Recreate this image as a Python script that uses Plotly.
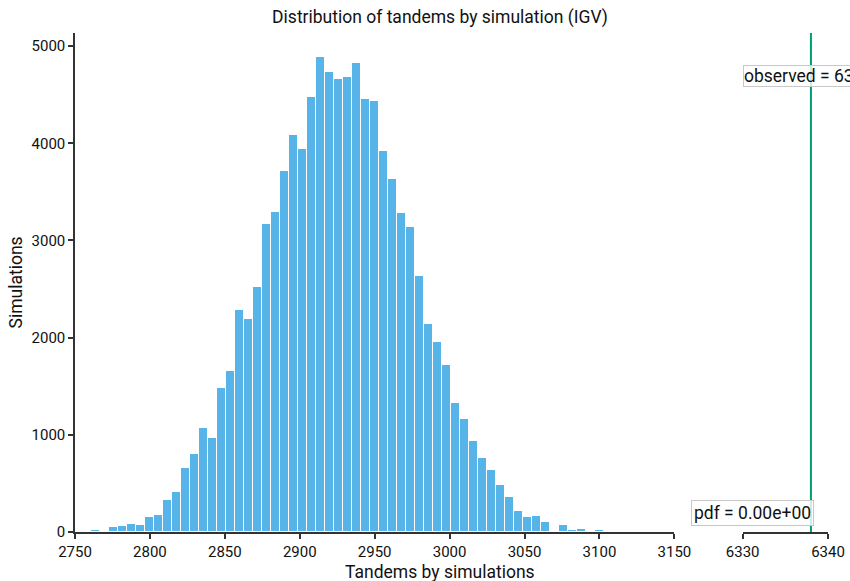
import plotly.graph_objects as go

# ---- data ----
bin_start = 2761
bin_size = 6
counts = [25, 5, 54, 65, 85, 72, 157, 175, 325, 408,
          662, 799, 1070, 970, 1485, 1660, 2280, 2195, 2521, 3169,
          3295, 3710, 4084, 3943, 4475, 4890, 4735, 4660, 4684, 4825,
          4458, 4437, 3916, 3635, 3278, 3134, 2630, 2140, 1955, 1721,
          1330, 1166, 932, 764, 638, 487, 360, 219, 157, 168,
          103, 5, 72, 16, 27, 0, 16]
observed = 6338
pdf_text = "pdf = 0.00e+00"
left_ticks = [2750, 2800, 2850, 2900, 2950, 3000, 3050, 3100, 3150]
right_ticks = [6330, 6340]
y_ticks = [0, 1000, 2000, 3000, 4000, 5000]

centers = [bin_start + bin_size * (i + 0.5) for i in range(len(counts))]

FONT = "Roboto"
AX = "#333333"
BAR = "#56B4E9"
GREEN = "#009E73"
TXT = 17.5

fig = go.Figure()
fig.add_trace(go.Bar(x=centers, y=counts, width=[bin_size] * len(counts),
                     marker=dict(color=BAR, line=dict(color="white", width=1)),
                     xaxis="x", yaxis="y", showlegend=False))

ymax = max(counts) * 1.05

axis_common = dict(showgrid=False, zeroline=False, showline=True, linecolor=AX,
                   linewidth=1.5, ticks="outside", ticklen=5, tickwidth=1.5,
                   tickcolor=AX, automargin=False,
                   tickfont=dict(family=FONT, size=15, color="#111"))

fig.update_layout(
    template="none",
    width=850, height=581, autosize=False,
    margin=dict(l=75, r=22, t=33, b=49, autoexpand=False),
    paper_bgcolor="white", plot_bgcolor="white",
    font=dict(family=FONT, size=15, color="#111"),
    title=dict(text="Distribution of tandems by simulation (IGV)",
               x=440 / 850, xanchor="center", xref="container",
               y=1 - 17 / 581, yanchor="middle", yref="container",
               font=dict(family=FONT, size=TXT, color="#111")),
    xaxis=dict(domain=[0, 0.796], range=[2750, 3150], tickvals=left_ticks,
               anchor="y", **axis_common),
    xaxis2=dict(domain=[0.8867, 1.0], range=[6330, 6340], tickvals=right_ticks,
                anchor="y", **axis_common),
    yaxis=dict(range=[0, ymax], tickvals=y_ticks, anchor="x", **axis_common),
    bargap=0,
)

# observed line
fig.add_shape(type="line", xref="x2", yref="y", x0=observed, x1=observed,
              y0=0, y1=ymax, line=dict(color=GREEN, width=2))

# annotations
fig.add_annotation(xref="x2", yref="y", x=6330, y=max(counts) * 0.96,
                   xanchor="left", yanchor="middle",
                   text=f"observed = {observed}", showarrow=False,
                   font=dict(family=FONT, size=TXT, color="#111"),
                   bgcolor="rgba(255,255,255,0.8)", bordercolor="#c8c8c8",
                   borderwidth=1, borderpad=0)
fig.add_annotation(xref="x2", yref="y", x=observed, y=0,
                   xanchor="right", yanchor="bottom", xshift=3, yshift=6,
                   text=pdf_text, showarrow=False,
                   font=dict(family=FONT, size=TXT, color="#111"),
                   bgcolor="rgba(255,255,255,0.8)", bordercolor="#c8c8c8",
                   borderwidth=1, borderpad=2)

# axis titles
fig.add_annotation(xref="paper", yref="paper", x=(440 - 75) / 753, y=-40 / 499,
                   xanchor="center", yanchor="middle", showarrow=False,
                   text="Tandems by simulations",
                   font=dict(family=FONT, size=TXT, color="#111"))
fig.add_annotation(xref="paper", yref="paper", x=-(75 - 15) / 753, y=0.5,
                   xanchor="center", yanchor="middle", showarrow=False,
                   textangle=-90, text="Simulations",
                   font=dict(family=FONT, size=TXT, color="#111"))

fig.write_html("out.html", config={"displayModeBar": False},
               post_script="document.body.style.margin='0px';")
